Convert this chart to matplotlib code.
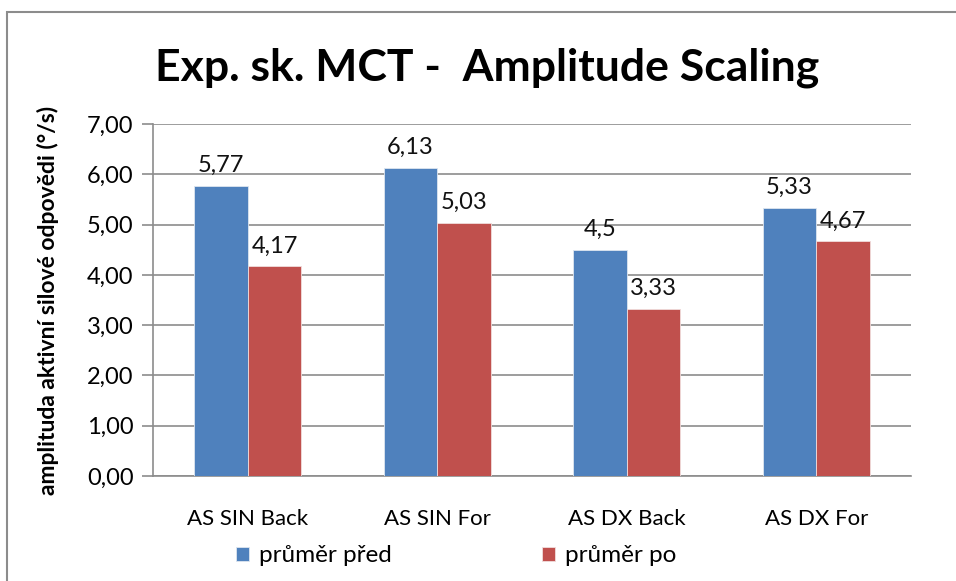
import matplotlib.pyplot as plt
import numpy as np
from matplotlib.patches import Rectangle

plt.rcParams['font.family'] = ['Lato', 'DejaVu Sans']

# Chart data
categories = ["AS SIN Back", "AS SIN For", "AS DX Back", "AS DX For"]
prumer_pred = [5.77, 6.13, 4.5, 5.33]
prumer_po = [4.17, 5.03, 3.33, 4.67]
labels_pred = ["5,77", "6,13", "4,5", "5,33"]
labels_po = ["4,17", "5,03", "3,33", "4,67"]
series_names = ["průměr před", "průměr po"]
y_ticks = [0, 1, 2, 3, 4, 5, 6, 7]

BLUE = "#4F81BD"
RED = "#C0504D"
GRID = "#8C8C8C"

W, H = 956, 581
fig = plt.figure(figsize=(W / 100, H / 100), dpi=100)

# outer chart frame (runs off the right and bottom edges)
fig.patches.append(Rectangle((7 / W, -0.05), 1.0, 1 - 12 / H + 0.05,
                             transform=fig.transFigure, fill=False,
                             edgecolor="#8C8C8C", linewidth=1.5))

ax = fig.add_axes([153 / W, (H - 476) / H, (911 - 153) / W, (476 - 124) / H])

x = np.arange(len(categories))
width = 0.282
bars1 = ax.bar(x - width / 2, prumer_pred, width, color=BLUE, edgecolor="#DDE6F0",
               linewidth=0.6, label=series_names[0], zorder=3)
bars2 = ax.bar(x + width / 2, prumer_po, width, color=RED, edgecolor="#F0DDDD",
               linewidth=0.6, label=series_names[1], zorder=3)

for bars, texts in ((bars1, labels_pred), (bars2, labels_po)):
    for b, t in zip(bars, texts):
        ax.annotate(t, (b.get_x() + b.get_width() / 2, b.get_height()),
                    xytext=(0, 7), textcoords="offset points",
                    ha="center", va="bottom", fontsize=17, color="#111111")

ax.set_xlim(-0.5, len(categories) - 0.5)
ax.set_ylim(0, 7)
ax.set_yticks(y_ticks)
ax.set_yticklabels([f"{v:.2f}".replace(".", ",") for v in y_ticks], fontsize=17)
ax.set_xticks(x)
ax.set_xticklabels(categories, fontsize=16)
ax.tick_params(axis="x", length=0, pad=24)
ax.tick_params(axis="y", length=8, color=GRID, width=1.2, pad=6)
ax.yaxis.grid(True, color=GRID, linewidth=1.2, zorder=0)

for side in ("top", "right"):
    ax.spines[side].set_visible(False)
for side in ("left", "bottom"):
    ax.spines[side].set_color(GRID)
    ax.spines[side].set_linewidth(1.2)

ax.set_ylabel("amplituda aktivní silové odpovědi (°/s)", fontsize=16.5,
              fontweight="bold", labelpad=20)

fig.text(487 / W, 1 - 68 / H, "Exp. sk. MCT -  Amplitude Scaling", fontsize=32,
         fontweight="bold", ha="center", va="center")

fig.legend(loc="center", bbox_to_anchor=(456 / W, 1 - 556 / H), ncol=2,
           frameon=False, fontsize=17.5, handlelength=0.55, handleheight=0.55,
           handletextpad=0.4, columnspacing=6.2)

fig.savefig("out.png", dpi=100)
